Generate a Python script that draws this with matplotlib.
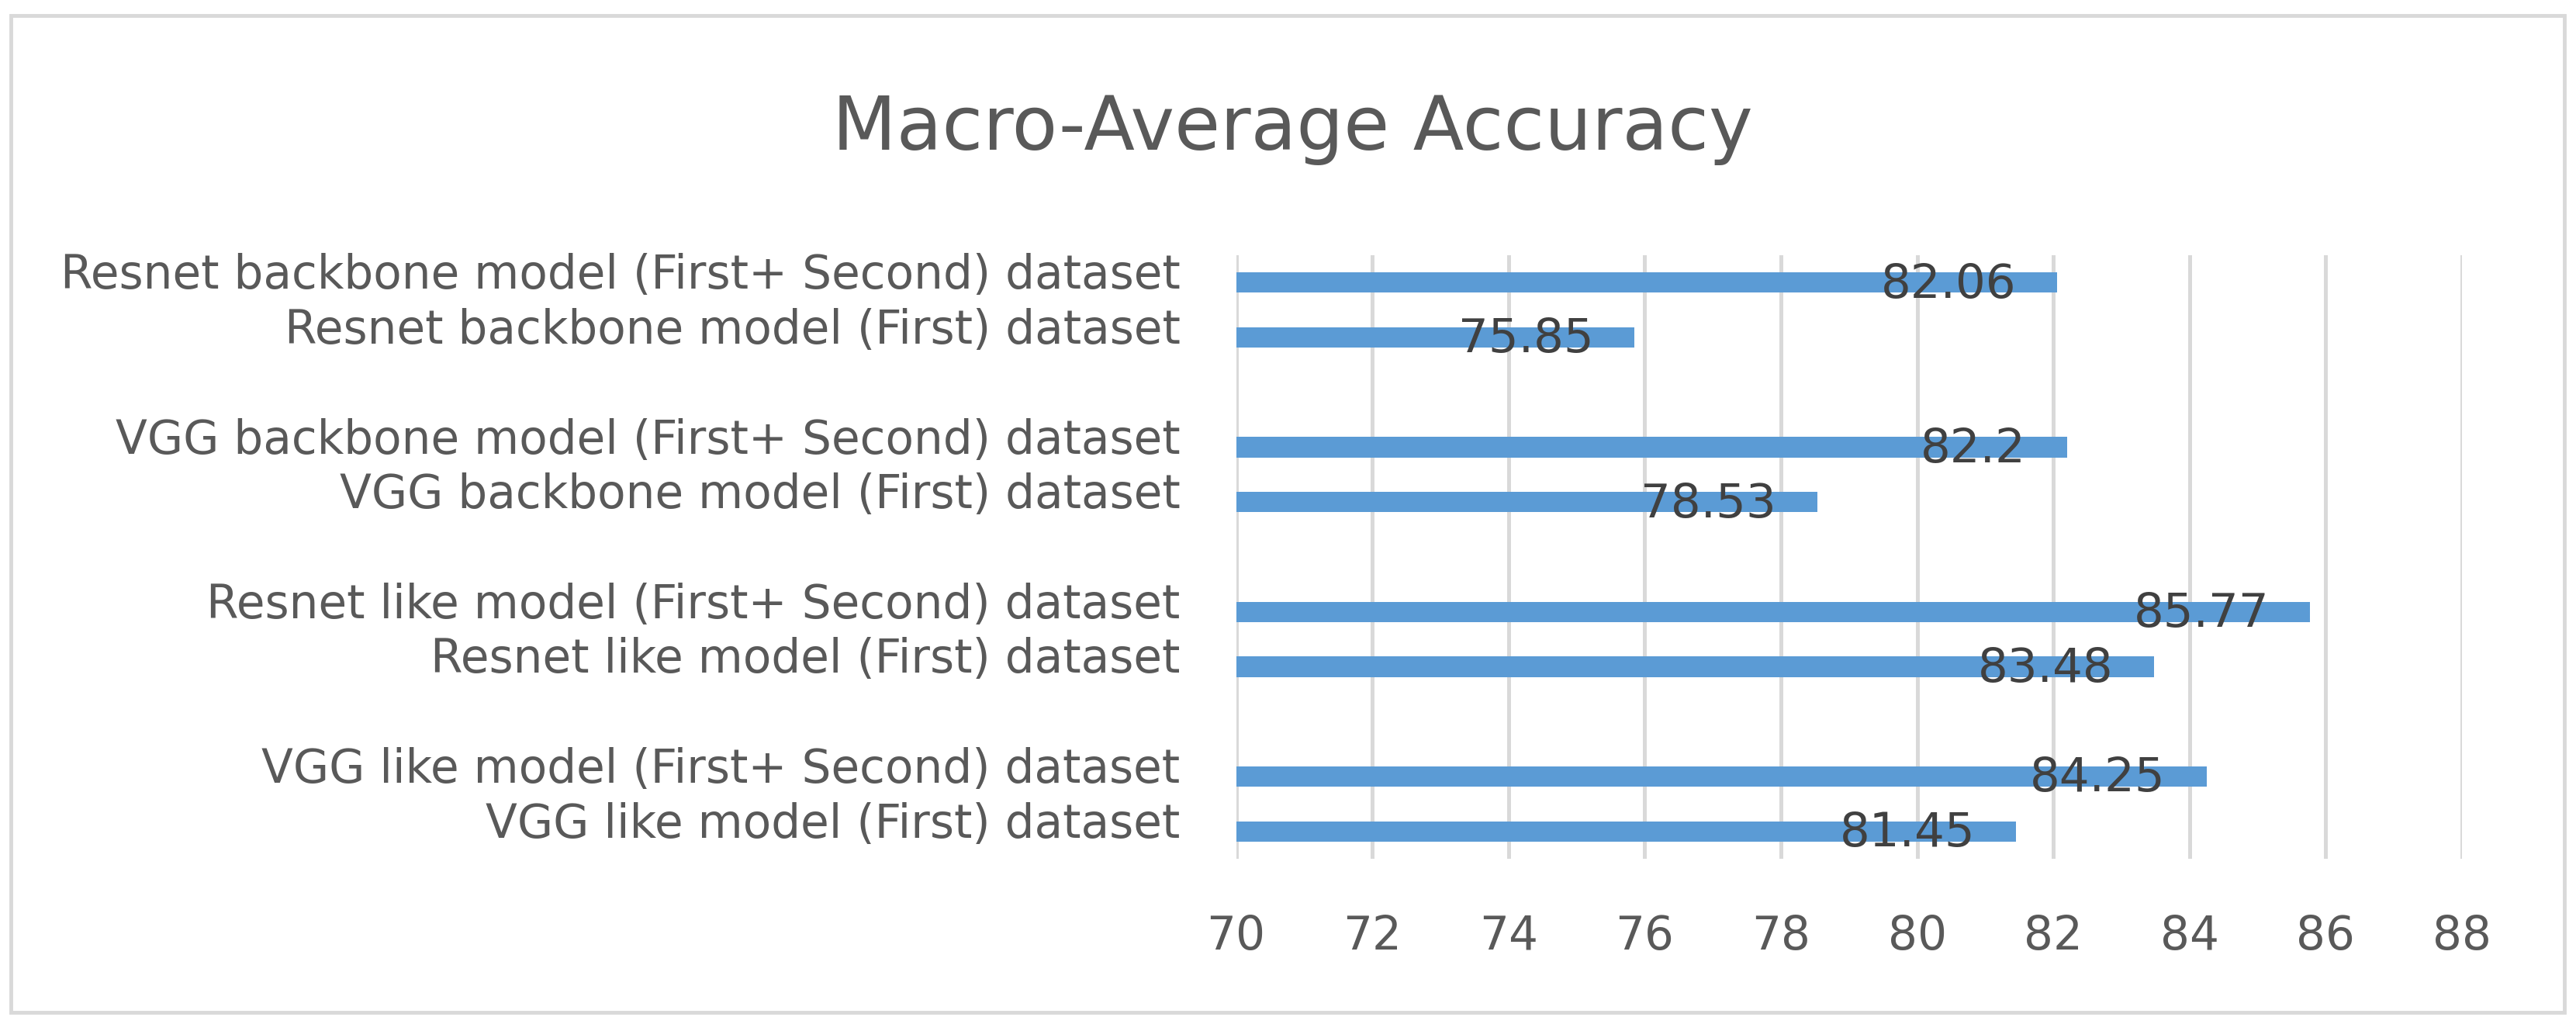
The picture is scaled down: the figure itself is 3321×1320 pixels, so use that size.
import numpy as np
import matplotlib
matplotlib.use("Agg")
import matplotlib.pyplot as plt
from matplotlib.patches import Rectangle
from matplotlib.transforms import ScaledTranslation

plt.rcParams['font.family'] = ['DejaVu Sans']

# data, top to bottom (None = empty row between groups)
labels = [
    "Resnet backbone model (First+ Second) dataset",
    "Resnet backbone model (First) dataset",
    None,
    "VGG backbone model (First+ Second) dataset",
    "VGG backbone model (First) dataset",
    None,
    "Resnet like model (First+ Second) dataset",
    "Resnet like model (First) dataset",
    None,
    "VGG like model (First+ Second) dataset",
    "VGG like model (First) dataset",
]
values = [82.06, 75.85, None, 82.2, 78.53, None, 85.77, 83.48, None, 84.25, 81.45]
value_text = ["82.06", "75.85", None, "82.2", "78.53", None, "85.77", "83.48", None, "84.25", "81.45"]
xticks = [70, 72, 74, 76, 78, 80, 82, 84, 86, 88]

W, H = 3321, 1320
fig = plt.figure(figsize=(W / 100, H / 100), dpi=100)
ax = fig.add_axes([1593.6 / W, 1 - 1107 / H, (3174 - 1593.6) / W, (1107 - 329) / H])

rows = [i for i, v in enumerate(values) if v is not None]
vals = [values[i] for i in rows]
ax.barh(rows, [v - 70 for v in vals], left=70, height=0.37, color='#5B9BD5', zorder=3)

for i in rows:
    ax.annotate(value_text[i], xy=(values[i], i), xytext=(-38, -2), textcoords='offset points',
                ha='right', va='center', fontsize=44, color='#404040', zorder=4)

ax.set_xlim(70, 88)
ax.set_ylim(10.5, -0.5)
ax.set_xticks(xticks)
ax.set_xticklabels([str(t) for t in xticks])
ax.set_yticks(rows)
ax.set_yticklabels([labels[i] for i in rows])
ax.tick_params(axis='y', length=0, pad=52, labelsize=43, labelcolor='#595959')
ax.tick_params(axis='x', length=0, pad=51, labelsize=43, labelcolor='#595959')
# category labels sit a little above their bars
for lab in ax.get_yticklabels():
    lab.set_transform(lab.get_transform() + ScaledTranslation(0, 0.15, fig.dpi_scale_trans))
ax.grid(axis='x', color='#D9D9D9', linewidth=3.6, zorder=0)
for s in ax.spines.values():
    s.set_visible(False)

fig.text(1666 / W, 1 - 193 / H, "Macro-Average Accuracy", ha='center', va='baseline',
         fontsize=69, color='#595959')

# outer chart border
fig.patches.append(Rectangle((14 / W, 1 - 1305 / H), (3306 - 14) / W, (1305 - 20) / H,
                             transform=fig.transFigure, fill=False, edgecolor='#D9D9D9',
                             linewidth=3.5))

fig.savefig("out.png", dpi=100)
